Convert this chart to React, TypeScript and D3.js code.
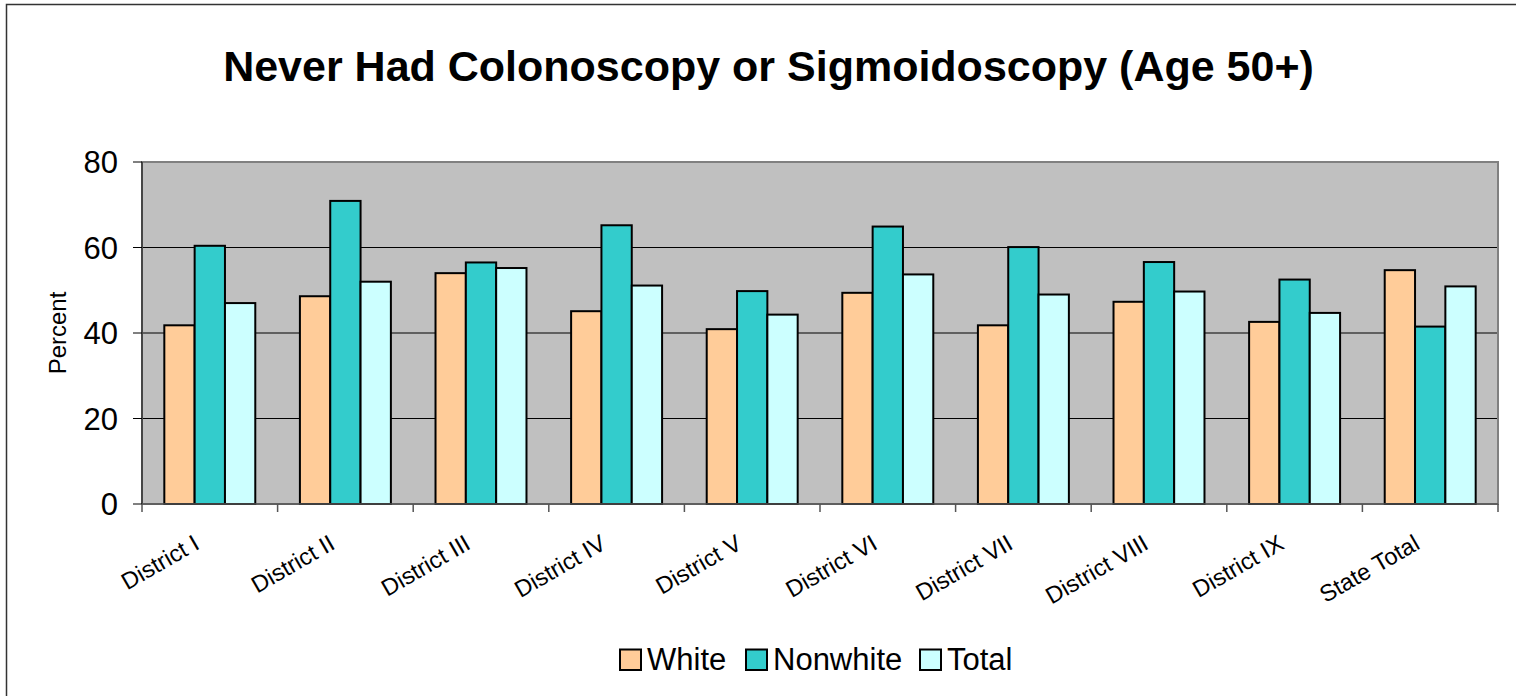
import React from "react";
import * as d3 from "d3";

const categories = ["District I", "District II", "District III", "District IV", "District V", "District VI", "District VII", "District VIII", "District IX", "State Total"];
const seriesNames = ["White", "Nonwhite", "Total"];
const whiteValues = [41.8, 48.6, 54.0, 45.1, 40.9, 49.4, 41.8, 47.3, 42.6, 54.7];
const nonwhiteValues = [60.4, 70.9, 56.5, 65.2, 49.8, 64.9, 60.1, 56.6, 52.5, 41.5];
const totalValues = [47.0, 52.0, 55.2, 51.1, 44.3, 53.7, 49.0, 49.7, 44.7, 50.9];
const yTicks = [0, 20, 40, 60, 80];
const colors = ["#FFCC99", "#33CCCC", "#CCFFFF"];

export default function App() {
  const W = 1516, H = 696;
  const plot = { left: 142, right: 1498, top: 162, bottom: 504 };
  const x = d3.scaleBand<string>().domain(categories).range([plot.left, plot.right]).paddingInner(0).paddingOuter(0);
  const inner = d3.scaleBand<string>().domain(seriesNames).range([0, x.bandwidth()]).paddingInner(0).paddingOuter(0.736);
  const y = d3.scaleLinear().domain([0, 80]).range([plot.bottom, plot.top]);
  const series = [whiteValues, nonwhiteValues, totalValues];
  const font = "Liberation Sans, Arial, sans-serif";
  const boundaries = d3.range(categories.length + 1).map((i) => plot.left + i * x.bandwidth());

  return (
    <svg width={W} height={H} style={{ position: "absolute", left: 0, top: 0, background: "#fff" }} fontFamily={font}>
      <rect x={6.5} y={4.5} width={W + 20} height={H + 20} fill="#fff" stroke="#333" strokeWidth={1.5} />
      <text x={768.5} y={81} textAnchor="middle" fontSize={43} fontWeight="bold" fill="#000">
        Never Had Colonoscopy or Sigmoidoscopy (Age 50+)
      </text>
      <rect x={plot.left} y={plot.top} width={plot.right - plot.left} height={plot.bottom - plot.top} fill="#C0C0C0" />
      {yTicks.filter((t) => t > 0 && t < 80).map((t) => (
        <line key={"g" + t} x1={plot.left} x2={plot.right} y1={y(t)} y2={y(t)} stroke="#000" strokeWidth={1} />
      ))}
      <rect x={plot.left} y={plot.top} width={plot.right - plot.left} height={plot.bottom - plot.top} fill="none" stroke="#808080" strokeWidth={2} />
      {categories.map((c, i) => (
        <g key={c} transform={`translate(${x(c)},0)`}>
          {series.map((vals, s) => (
            <rect key={s} x={inner(seriesNames[s])} y={y(vals[i])} width={inner.bandwidth()} height={y(0) - y(vals[i])}
              fill={colors[s]} stroke="#000" strokeWidth={2} />
          ))}
        </g>
      ))}
      <line x1={plot.left} x2={plot.left} y1={plot.top} y2={plot.bottom} stroke="#333" strokeWidth={1.5} />
      <line x1={plot.left} x2={plot.right} y1={plot.bottom} y2={plot.bottom} stroke="#555" strokeWidth={1.5} />
      {yTicks.map((t) => (
        <g key={"t" + t}>
          <line x1={plot.left - 9} x2={plot.left} y1={y(t)} y2={y(t)} stroke="#000" strokeWidth={1} />
          <text x={118} y={y(t)} dy="0.36em" textAnchor="end" fontSize={31} fill="#000">{t}</text>
        </g>
      ))}
      {boundaries.map((bx, i) => (
        <line key={"b" + i} x1={bx} x2={bx} y1={plot.bottom} y2={plot.bottom + 8} stroke="#555" strokeWidth={1.5} />
      ))}
      <text transform={`translate(66,333) rotate(-90)`} textAnchor="middle" fontSize={24} fill="#000">Percent</text>
      {categories.map((c) => (
        <text key={"l" + c} transform={`translate(${(x(c) as number) + x.bandwidth() / 2 - 9},${plot.bottom + 44}) rotate(-30)`}
          textAnchor="end" fontSize={23.5} fill="#000">{c}</text>
      ))}
      {(() => {
        const items = [
          { name: seriesNames[0], sx: 620, tx: 647 },
          { name: seriesNames[1], sx: 746, tx: 773 },
          { name: seriesNames[2], sx: 920, tx: 947 },
        ];
        return items.map((it, i) => (
          <g key={"lg" + i}>
            <rect x={it.sx} y={649.5} width={21} height={20.5} fill={colors[i]} stroke="#000" strokeWidth={2} />
            <text x={it.tx} y={669.5} fontSize={31} fill="#000">{it.name}</text>
          </g>
        ));
      })()}
    </svg>
  );
}
